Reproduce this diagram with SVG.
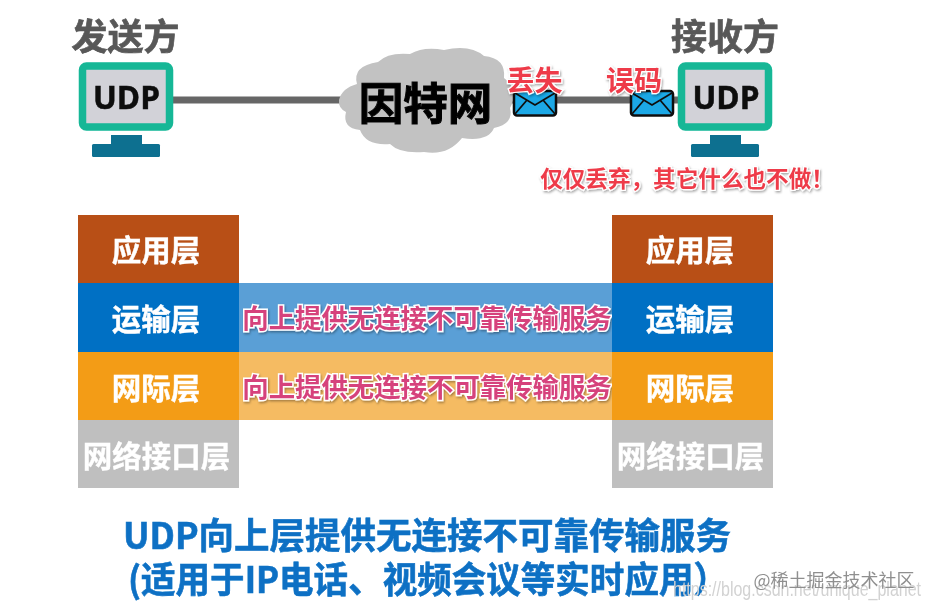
<svg xmlns="http://www.w3.org/2000/svg" width="932" height="609" viewBox="0 0 932 609">
<defs>
<style>
text{font-family:"Noto Sans CJK SC","Liberation Sans",sans-serif;font-weight:700;text-anchor:middle}
.head{font-size:36px;fill:#595959;stroke:#595959;stroke-width:.7px}
.udp{font-family:"Open Sans","Liberation Sans",sans-serif;font-size:31.500px;fill:#0a0a0a;stroke:#0a0a0a;stroke-width:.5px}
.frame{fill:#d2d2d8;stroke:#15b796;stroke-width:7.5}
.stand{fill:#0f6f90}
.layer{font-size:29.500px;fill:#fff;stroke:#fff;stroke-width:.4px}
.band{font-size:26.400px;fill:#d6437c;stroke:#fff;stroke-width:3px;paint-order:stroke;filter:url(#shadow)}
.red{fill:#ee3b48;stroke:#fff;stroke-width:2.5px;paint-order:stroke;filter:url(#shadow)}
.foot{font-size:36px;fill:#0b70c4;stroke:#0b70c4;stroke-width:.6px}
.env{fill:#1aa8e6;stroke:#111;stroke-width:2.5}
.fold{fill:none;stroke:#111;stroke-width:1.8}
.link{stroke:#666;stroke-width:7;fill:none}
</style>
<filter id="shadow" x="-10%" y="-30%" width="120%" height="160%"><feDropShadow dx="1" dy="1.5" stdDeviation="1.2" flood-color="#000" flood-opacity=".35"/></filter>
<filter id="soft" x="-5%" y="-5%" width="110%" height="110%"><feGaussianBlur stdDeviation=".45"/></filter>
</defs>
<rect width="932" height="609" fill="#fff"/>
<g filter="url(#soft)">
<g id="connectors">
<path class="link" d="M173 100H345"/>
<path class="link" d="M510 100H680"/>
</g>
<g id="sender">
<text class="head" x="125.500" y="50">发送方</text>
<rect class="frame" x="82.500" y="66" width="87" height="61" rx="4"/>
<text class="udp" x="126.500" y="109">UDP</text>
<rect class="stand" x="111" y="135" width="31" height="12"/>
<rect class="stand" x="92" y="144" width="68" height="13" rx="1.500"/>
</g>
<g id="receiver">
<text class="head" x="725" y="50">接收方</text>
<rect class="frame" x="681.500" y="66" width="87" height="61" rx="4"/>
<text class="udp" x="726" y="109">UDP</text>
<rect class="stand" x="710" y="135" width="31" height="12"/>
<rect class="stand" x="691" y="144" width="68" height="13" rx="1.500"/>
</g>
<g id="internet">
<path fill="#c2c2c2" d="M339 100Q342 88 357 84Q352 66 378 62Q388 52 410 54Q424 46 444 50Q470 44 484 56Q506 58 504 78Q520 90 510 108Q514 124 494 128Q488 142 462 138Q448 156 424 152Q400 154 390 144Q366 146 360 130Q342 128 346 112Q338 108 339 100Z"/>
<text x="425.500" y="120" font-size="44.500" fill="#050505" stroke="#050505" stroke-width="1">因特网</text>
</g>
<g id="envelope-lost">
<rect class="env" x="514" y="91" width="42" height="24.500" rx="3"/>
<path class="fold" d="M515 93L535 105L555 93M515 114L527 100M555 114L543 100"/>
<text class="red" x="534.500" y="91" font-size="28">丢失</text>
</g>
<g id="envelope-error">
<rect class="env" x="631" y="91" width="42" height="24.500" rx="3"/>
<path class="fold" d="M632 93L652 105L672 93M632 114L644 100M672 114L660 100"/>
<text class="red" x="634" y="91" font-size="28">误码</text>
</g>
<g id="discard-note">
<text class="red" x="687" y="187" font-size="22.600">仅仅丢弃，其它什么也不做！</text>
</g>
<g id="service-bands">
<rect x="239" y="283" width="373" height="69" fill="#5a9fd6"/>
<rect x="239" y="352" width="373" height="68" fill="#f5bb62"/>
<text class="band" x="427" y="328">向上提供无连接不可靠传输服务</text>
<text class="band" x="427" y="397">向上提供无连接不可靠传输服务</text>
</g>
<g id="stack-left">
<rect x="78" y="215" width="161" height="68" fill="#b84f14"/>
<text class="layer" x="156" y="261">应用层</text>
<rect x="78" y="283" width="161" height="69" fill="#0070c4"/>
<text class="layer" x="156" y="330">运输层</text>
<rect x="78" y="352" width="161" height="68" fill="#f39c16"/>
<text class="layer" x="156" y="399">网际层</text>
<rect x="78" y="420" width="161" height="68" fill="#bfbfbf"/>
<text class="layer" x="156.500" y="467">网络接口层</text>
</g>
<g id="stack-right">
<rect x="612" y="215" width="161" height="68" fill="#b84f14"/>
<text class="layer" x="690" y="261">应用层</text>
<rect x="612" y="283" width="161" height="69" fill="#0070c4"/>
<text class="layer" x="690" y="330">运输层</text>
<rect x="612" y="352" width="161" height="68" fill="#f39c16"/>
<text class="layer" x="690" y="399">网际层</text>
<rect x="612" y="420" width="161" height="68" fill="#bfbfbf"/>
<text class="layer" x="690.500" y="467">网络接口层</text>
</g>
<g id="summary">
<text class="foot" x="427" y="549" textLength="608" lengthAdjust="spacingAndGlyphs">UDP向上层提供无连接不可靠传输服务</text>
<text class="foot" x="428" y="593" textLength="600" lengthAdjust="spacingAndGlyphs">(适用于IP电话、视频会议等实时应用）</text>
</g>
</g>
<g id="watermarks" filter="url(#soft)">
<text x="797" y="596" font-size="20" style="font-family:'Liberation Sans',sans-serif;font-weight:400;fill:#d2d2d2" textLength="248" lengthAdjust="spacingAndGlyphs">https://blog.csdn.net/unique_planet</text>
<text x="834" y="587" font-size="18" style="font-weight:400;fill:#8f8f8f">@稀土掘金技术社区</text>
</g>
</svg>
